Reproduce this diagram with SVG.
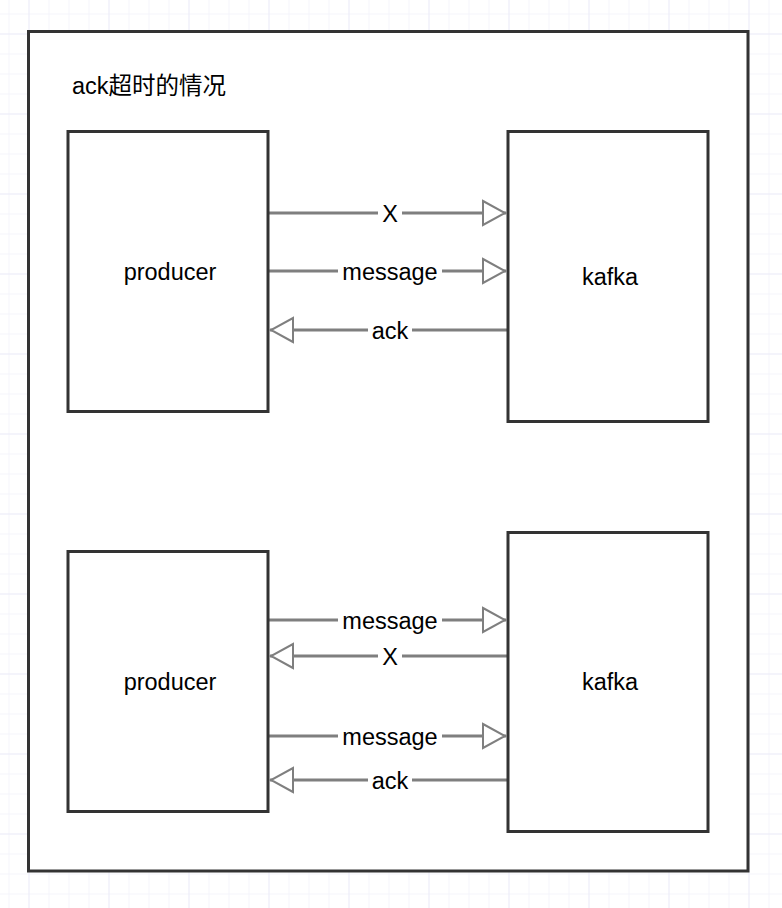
<svg xmlns="http://www.w3.org/2000/svg" width="782" height="908" viewBox="0 0 782 908">
<style>
.box{fill:#fff;stroke:#333;stroke-width:3}
.frame{fill:#fff;stroke:#333;stroke-width:3}
.conn{stroke:#7f7f7f;stroke-width:3;fill:none}
.lbl{font-family:"Liberation Sans",Arial,sans-serif;font-size:23.5px;fill:#000;text-anchor:middle}
.nt{font-family:"Liberation Sans",Arial,sans-serif;font-size:23.5px;fill:#000;text-anchor:middle}
.title{font-family:"Liberation Sans","Noto Sans CJK SC",sans-serif;font-size:23.5px;fill:#000}
.lblbg{fill:#fff}
</style>
<defs>
<pattern id="minor" x="8.5" y="13.5" width="20" height="20" patternUnits="userSpaceOnUse">
<path d="M0 0H20M0 0V20" stroke="#ececf8" stroke-width="1" fill="none"/>
</pattern>
<pattern id="major" x="28.5" y="33.5" width="80" height="80" patternUnits="userSpaceOnUse">
<path d="M0 0H80M0 0V80" stroke="#e4e4f5" stroke-width="1" fill="none"/>
</pattern>
<marker id="tri" viewBox="0 0 26 28" refX="25" refY="14" markerWidth="26" markerHeight="28" markerUnits="userSpaceOnUse" orient="auto">
<path d="M2 2L24 14L2 26Z" fill="#fff" stroke="#7f7f7f" stroke-width="2"/>
</marker>
</defs>
<rect width="782" height="908" fill="#fff"/>
<rect width="782" height="908" fill="url(#minor)"/>
<rect width="782" height="908" fill="url(#major)"/>

<g id="frame">
<rect class="frame" x="28.5" y="31.5" width="719.5" height="839.5"/>
<text class="title" x="72" y="94">ack超时的情况</text>
</g>

<g id="connectors">
<line class="conn" x1="268" y1="213" x2="506" y2="213" marker-end="url(#tri)"/>
<line class="conn" x1="268" y1="271" x2="506" y2="271" marker-end="url(#tri)"/>
<line class="conn" x1="508" y1="330" x2="270" y2="330" marker-end="url(#tri)"/>
<line class="conn" x1="268" y1="620" x2="506" y2="620" marker-end="url(#tri)"/>
<line class="conn" x1="508" y1="656" x2="270" y2="656" marker-end="url(#tri)"/>
<line class="conn" x1="268" y1="736" x2="506" y2="736" marker-end="url(#tri)"/>
<line class="conn" x1="508" y1="780" x2="270" y2="780" marker-end="url(#tri)"/>
<rect class="lblbg" x="378" y="200" width="24" height="26"/>
<text class="lbl" x="390" y="221.5">X</text>
<rect class="lblbg" x="338" y="258" width="104" height="26"/>
<text class="lbl" x="390" y="279.5">message</text>
<rect class="lblbg" x="368" y="317" width="44" height="26"/>
<text class="lbl" x="390" y="338.5">ack</text>
<rect class="lblbg" x="338" y="607" width="104" height="26"/>
<text class="lbl" x="390" y="628.5">message</text>
<rect class="lblbg" x="378" y="643" width="24" height="26"/>
<text class="lbl" x="390" y="664.5">X</text>
<rect class="lblbg" x="338" y="723" width="104" height="26"/>
<text class="lbl" x="390" y="744.5">message</text>
<rect class="lblbg" x="368" y="767" width="44" height="26"/>
<text class="lbl" x="390" y="788.5">ack</text>
</g>

<g id="producer1">
<rect class="box" x="68" y="131.5" width="200" height="280"/>
<text class="nt" x="170" y="280">producer</text>
</g>
<g id="kafka1">
<rect class="box" x="508" y="131.5" width="200" height="290"/>
<text class="nt" x="610" y="285">kafka</text>
</g>
<g id="producer2">
<rect class="box" x="68" y="551.5" width="200" height="260"/>
<text class="nt" x="170" y="690">producer</text>
</g>
<g id="kafka2">
<rect class="box" x="508" y="532.5" width="200" height="299"/>
<text class="nt" x="610" y="690">kafka</text>
</g>
</svg>
